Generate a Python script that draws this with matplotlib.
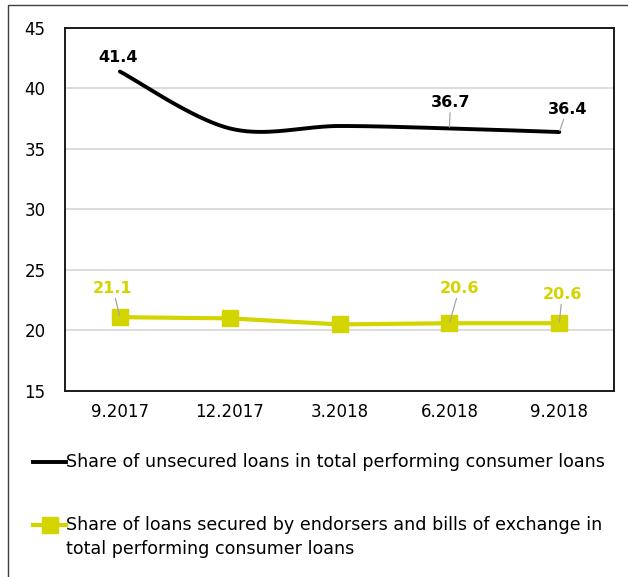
import matplotlib
matplotlib.use("Agg")
import matplotlib.pyplot as plt
from matplotlib.lines import Line2D
import numpy as np

plt.rcParams['font.family'] = ['DejaVu Sans']

# quarter labels and the two shares (%)
quarters = ["9.2017", "12.2017", "3.2018", "6.2018", "9.2018"]
unsecured = [41.4, 36.7, 36.9, 36.7, 36.4]
endorsed = [21.1, 21.0, 20.5, 20.6, 20.6]

unsecured_label = "Share of unsecured loans in total performing consumer loans"
endorsed_label = ("Share of loans secured by endorsers and bills of exchange in\n"
                  "total performing consumer loans")

BLACK = "#000000"
YELLOW = "#d4d400"
GRID = "#d9d9d9"
LEADER = "#a6a6a6"


def smooth(xs, ys, n=40):
    # cubic bezier through every point, tangents taken from the neighbours
    xs = np.asarray(xs, float)
    ys = np.asarray(ys, float)
    px = np.concatenate([[xs[0]], xs, [xs[-1]]])
    py = np.concatenate([[ys[0]], ys, [ys[-1]]])
    out_x, out_y = [], []
    t = np.linspace(0, 1, n)
    for i in range(1, len(px) - 2):
        p0 = np.array([px[i], py[i]])
        p3 = np.array([px[i + 1], py[i + 1]])
        c1 = p0 + (np.array([px[i + 1], py[i + 1]]) - np.array([px[i - 1], py[i - 1]])) / 6
        c2 = p3 - (np.array([px[i + 2], py[i + 2]]) - np.array([px[i], py[i]])) / 6
        b = ((1 - t) ** 3)[:, None] * p0 + (3 * (1 - t) ** 2 * t)[:, None] * c1 \
            + (3 * (1 - t) * t ** 2)[:, None] * c2 + (t ** 3)[:, None] * p3
        out_x.extend(b[:, 0])
        out_y.extend(b[:, 1])
    return np.array(out_x), np.array(out_y)


fig = plt.figure(figsize=(6.28, 5.77), dpi=100)
ax = fig.add_axes([0.1035, 0.3224, 0.8745, 0.6291])

x = np.arange(len(quarters))
sx, sy = smooth(x, unsecured)
ax.plot(sx, sy, color=BLACK, lw=2.8, solid_capstyle='round', zorder=3)
ax.plot(x, endorsed, color=YELLOW, lw=3.0, marker='s', markersize=11.5,
        markeredgecolor=YELLOW, zorder=3)

ax.set_xlim(-0.5, len(quarters) - 0.5)
ax.set_ylim(15, 45)
ax.set_yticks(range(15, 46, 5))
ax.set_xticks(x)
ax.set_xticklabels(quarters)
ax.tick_params(axis='both', length=0, labelsize=12)
ax.tick_params(axis='y', pad=14)
ax.tick_params(axis='x', pad=9)
ax.yaxis.grid(True, color=GRID, lw=1.3)
ax.set_axisbelow(True)
for s in ax.spines.values():
    s.set_color("#1a1a1a")
    s.set_linewidth(1.4)

# data labels: (index, offset in pixels, leader line?)
black_labels = [(0, (-2, 14), False), (3, (1, 26), True), (4, (8, 23), True)]
yellow_labels = [(0, (-7, 29), True), (3, (10, 35), True), (4, (3, 29), True)]

for series, color, labels in [(unsecured, BLACK, black_labels),
                              (endorsed, YELLOW, yellow_labels)]:
    for i, (dx, dy), leader in labels:
        props = dict(arrowstyle='-', color=LEADER, lw=0.9,
                     shrinkA=0, shrinkB=1) if leader else None
        ax.annotate(f"{series[i]:.1f}", xy=(x[i], series[i]),
                    xytext=(dx, dy), textcoords='offset pixels',
                    ha='center', va='center', fontsize=11.5,
                    fontweight='bold', color=color, arrowprops=props,
                    zorder=4)

# legend below the plot
fig.add_artist(Line2D([33 / 628, 66 / 628], [1 - 462 / 577] * 2,
                      color=BLACK, lw=2.8, transform=fig.transFigure))
fig.text(66 / 628, 1 - 462 / 577, unsecured_label, fontsize=12.6,
         va='center', ha='left')
fig.add_artist(Line2D([33 / 628, 66 / 628], [1 - 525 / 577] * 2,
                      color=YELLOW, lw=3.0, transform=fig.transFigure))
fig.add_artist(Line2D([49.5 / 628], [1 - 525 / 577], color=YELLOW,
                      marker='s', markersize=11, transform=fig.transFigure))
fig.text(66 / 628, 1 - 537 / 577, endorsed_label, fontsize=12.6,
         va='center', ha='left', linespacing=1.45)

# outer frame (top and left edge only)
fig.add_artist(Line2D([8 / 628, 8 / 628, 1], [0, 1 - 5 / 577, 1 - 5 / 577],
                      color="#404040", lw=1.0, transform=fig.transFigure))

fig.savefig("out.png", dpi=100)
